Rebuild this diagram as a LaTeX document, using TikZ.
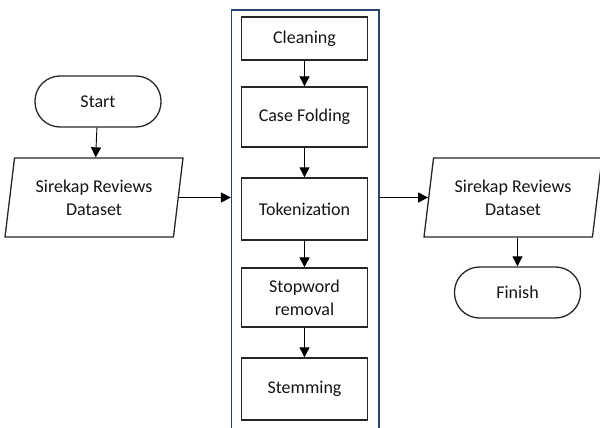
\documentclass[tikz,border=0pt]{standalone}
\usepackage{fontspec}
\setmainfont{Carlito}
\usetikzlibrary{arrows.meta,shapes.geometric}
\definecolor{boxline}{RGB}{38,38,38}
\definecolor{txt}{RGB}{20,20,20}
\definecolor{navy}{RGB}{44,66,110}
\tikzset{
  base/.style={draw=boxline,line width=1.3pt,text=txt,inner sep=0pt,align=center,
    font=\fontsize{18}{23}\selectfont},
  term/.style={base,rectangle,rounded corners=25pt,minimum width=126pt,minimum height=51pt},
  procbox/.style={base,rectangle,minimum width=126pt},
  io/.style={base,trapezium,trapezium left angle=75,trapezium right angle=105,
    trapezium stretches body,minimum width=178pt,minimum height=79pt},
  frame/.style={draw=navy,line width=1.2pt,rectangle,minimum width=147.5pt,minimum height=440pt},
  arr/.style={draw=black,line width=0.9pt,-{Triangle[length=10pt,width=10pt]}}
}
\begin{document}
\begin{tikzpicture}[x=1pt,y=-1pt]
\useasboundingbox (0,0) rectangle (600,428);
\clip (0,0) rectangle (600,428);
\node[frame] (pre) at (305.25,230) {};
\node[term] (start) at (98,101.5) {Start};
\node[io] (d1) at (94,197.5) {Sirekap Reviews\\Dataset};
\node[procbox,minimum height=43pt] (clean) at (304.5,38.5) {Cleaning};
\node[procbox,minimum height=60pt] (fold) at (304.5,117) {Case Folding};
\node[procbox,minimum height=62pt] (tok) at (304.5,209) {Tokenization};
\node[procbox,minimum height=59pt] (stop) at (304.5,297.5) {Stopword\\removal};
\node[procbox,minimum height=62pt] (stem) at (304.5,389) {Stemming};
\node[io] (d2) at (513,197.5) {Sirekap Reviews\\Dataset};
\node[term] (finish) at (517.5,292.5) {Finish};
\draw[arr] (start) -- (d1);
\draw[arr] (d1.east) -- (d1.east -| pre.west);
\draw[arr] (clean) -- (fold);
\draw[arr] (fold) -- (tok);
\draw[arr] (tok) -- (stop);
\draw[arr] (stop) -- (stem);
\draw[arr] (pre.east |- d2.west) -- (d2.west);
\draw[arr] (d2.south -| finish.north) -- (finish.north);
\end{tikzpicture}
\end{document}
